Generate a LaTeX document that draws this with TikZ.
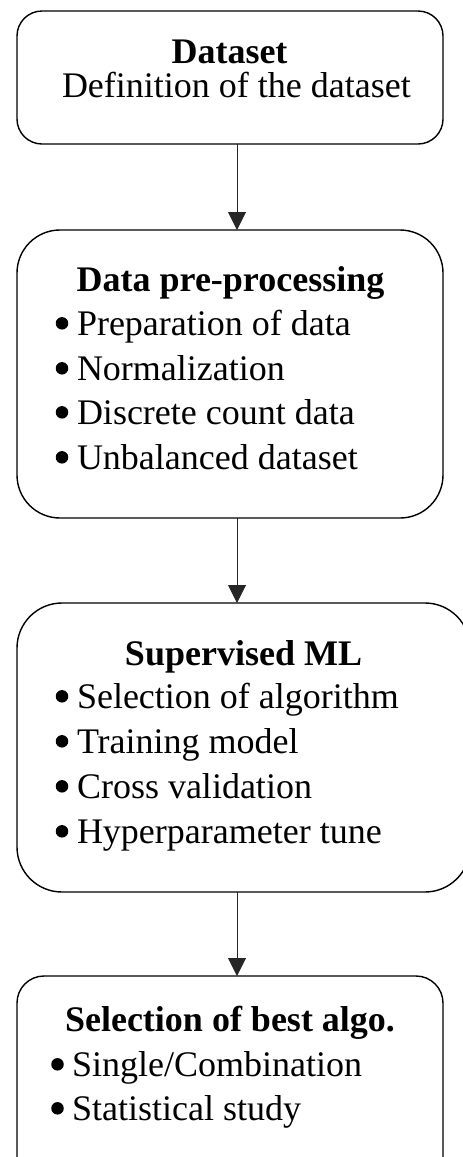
\documentclass[tikz,border=0pt]{standalone}
\usepackage{fontspec}
\setmainfont{Liberation Serif}
\usetikzlibrary{arrows.meta}
\tikzset{
  box/.style={draw=black, line width=1.4pt, inner sep=0pt, outer sep=0pt},
  txt/.style={inner sep=0pt, outer sep=0pt, font=\fontsize{36}{44}\selectfont},
  ttl/.style={txt, font=\fontsize{36}{44}\selectfont\bfseries, anchor=base},
  itm/.style={txt, anchor=base west},
  bul/.style={circle, fill=black, inner sep=0pt, outer sep=0pt, minimum size=12.5pt, yshift=11.7pt},
  arr/.style={draw=black!85, line width=1pt, -{Triangle[length=18pt,width=18pt]}}
}
\begin{document}
\begin{tikzpicture}[x=1pt,y=-1pt]
\useasboundingbox (0,0) rectangle (463,1157);
\clip (0,0) rectangle (463,1157);
\coordinate (ax) at (237,0);
% boxes
\node[box, rounded corners=25pt, minimum width=426pt, minimum height=133pt] (b1) at (230,77.5) {};
\node[box, rounded corners=43pt, minimum width=426pt, minimum height=288pt] (b2) at (230,374) {};
\node[box, rounded corners=45pt, minimum width=453pt, minimum height=289pt] (b3) at (243.5,747.5) {};
\node[box, rounded corners=27pt, minimum width=426pt, minimum height=210pt] (b4) at (230,1081) {};
% box 1 text
\node[ttl] (t10) at (229.5,63) {Dataset};
\node[itm] (t11) at (62,97) {Definition of the dataset};
% box 2 text
\node[ttl] (t20) at (230.5,291) {Data pre-processing};
\node[bul] (p21) at (62,335) {};
\node[itm] (t21) at (77,335) {Preparation of data};
\node[bul] (p22) at (62,380) {};
\node[itm] (t22) at (77,380) {Normalization};
\node[bul] (p23) at (62,424) {};
\node[itm] (t23) at (77,424) {Discrete count data};
\node[bul] (p24) at (62,469) {};
\node[itm] (t24) at (77,469) {Unbalanced dataset};
% box 3 text
\node[ttl] (t30) at (243.5,665) {Supervised ML};
\node[bul] (p31) at (62,708) {};
\node[itm] (t31) at (77,708) {Selection of algorithm};
\node[bul] (p32) at (62,753) {};
\node[itm] (t32) at (77,753) {Training model};
\node[bul] (p33) at (62,798) {};
\node[itm] (t33) at (77,798) {Cross validation};
\node[bul] (p34) at (62,843) {};
\node[itm] (t34) at (77,843) {Hyperparameter tune};
% box 4 text
\node[ttl] (t40) at (230,1031) {Selection of best algo.};
\node[bul] (p41) at (57.5,1076) {};
\node[itm] (t41) at (72,1076) {Single/Combination};
\node[bul] (p42) at (57.5,1120) {};
\node[itm] (t42) at (72,1120) {Statistical study};
% arrows
\draw[arr] (b1.south -| ax) -- (b2.north -| ax);
\draw[arr] (b2.south -| ax) -- (b3.north -| ax);
\draw[arr] (b3.south -| ax) -- (b4.north -| ax);
\end{tikzpicture}
\end{document}
